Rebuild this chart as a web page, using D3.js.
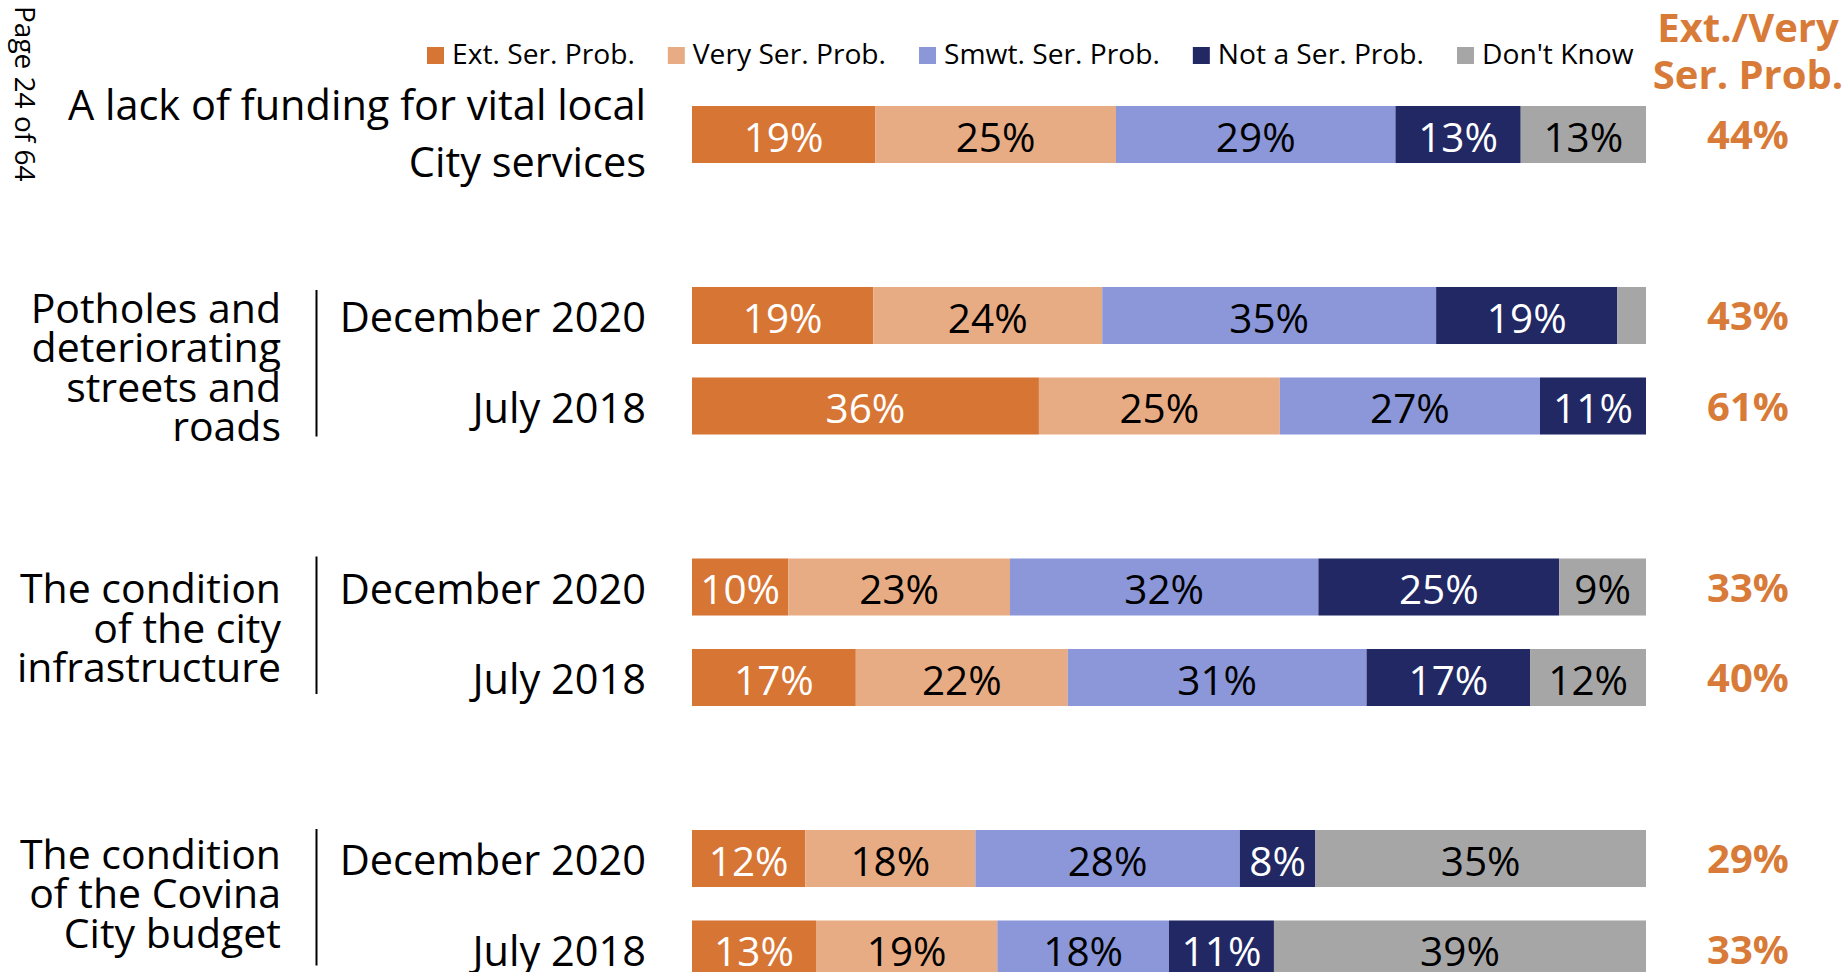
<!DOCTYPE html>
<html>
<head>
<meta charset="utf-8">
<script src="https://cdn.jsdelivr.net/npm/d3@7"></script>
<style>
  html, body { margin: 0; padding: 0; background: #ffffff; }
  svg { display: block; }
  text { font-family: "Open Sans", "Noto Sans", sans-serif; }
</style>
</head>
<body>
<svg id="chart" width="1848" height="972"></svg>
<script>
// ---------------- DATA ----------------
const rowKeys = ["funding", "potholes2020", "potholes2018", "infra2020", "infra2018", "budget2020", "budget2018"];
const rowLabels = ["A lack of funding for vital local|City services", "December 2020", "July 2018", "December 2020", "July 2018", "December 2020", "July 2018"];
const seriesNames = ["Ext. Ser. Prob.", "Very Ser. Prob.", "Smwt. Ser. Prob.", "Not a Ser. Prob.", "Don't Know"];
const extSerProb  = [19, 19, 36, 10, 17, 12, 13];
const verySerProb = [25, 24, 25, 23, 22, 18, 19];
const smwtSerProb = [29, 35, 27, 32, 31, 28, 18];
const notSerProb  = [13, 19, 11, 25, 17,  8, 11];
const dontKnow    = [13,  3,  0,  9, 12, 35, 39];
const extVeryTotal = [44, 43, 61, 33, 40, 29, 33];
const groupNames = ["Potholes and|deteriorating|streets and|roads", "The condition|of the city|infrastructure", "The condition|of the Covina|City budget"];
const groupRows = [["potholes2020", "potholes2018"], ["infra2020", "infra2018"], ["budget2020", "budget2018"]];
const slotOrder = ["funding", "gapA", "potholes2020", "potholes2018", "gapB", "infra2020", "infra2018", "gapC", "budget2020", "budget2018"];
const headerLines = ["Ext./Very", "Ser. Prob."];
const pageLabel = "Page 24 of 64";

// ---------------- STYLE ----------------
const colors = ["#D77534", "#E8AC85", "#8B97D9", "#212864", "#A6A6A6"];
const labelColors = ["#ffffff", "#000000", "#000000", "#ffffff", "#000000"];
const accent = "#D97B38";
const groupTextShift = [7, 16, 10];      // first-line baseline offset from first bar centre
const groupLineTop = [3, -2, -1];        // separator start relative to first bar top
const groupLineBottom = [2, -12, -12];   // separator end relative to second bar bottom

const svg = d3.select("#chart");

const seriesKeys = ["s0", "s1", "s2", "s3", "s4"];
const seriesArrays = [extSerProb, verySerProb, smwtSerProb, notSerProb, dontKnow];
const table = rowKeys.map((k, i) => {
  const o = { key: k, label: rowLabels[i], total: extVeryTotal[i] };
  seriesKeys.forEach((s, j) => o[s] = seriesArrays[j][i]);
  return o;
});

const x = d3.scaleLinear().domain([0, 1]).range([692, 1646]);
const y = d3.scaleBand().domain(slotOrder).range([89.25, 994.25]).paddingInner(0.37).paddingOuter(0.185);
const bw = y.bandwidth();
const cy = k => y(k) + bw / 2;

const stacked = d3.stack().keys(seriesKeys).offset(d3.stackOffsetExpand)(table);

// bars
const layers = svg.append("g").selectAll("g").data(stacked).join("g")
  .attr("fill", (d, i) => colors[i]);
layers.selectAll("rect").data(d => d.map(p => ({ p, key: d.key, idx: d.index }))).join("rect")
  .attr("x", d => x(d.p[0]))
  .attr("width", d => Math.max(0, x(d.p[1]) - x(d.p[0])))
  .attr("y", d => y(d.p.data.key))
  .attr("height", bw);

// value labels
layers.selectAll("text").data(d => d.map(p => ({ p, key: d.key, idx: d.index })).filter(d => d.p.data[d.key] >= 5))
  .join("text")
  .attr("x", d => (x(d.p[0]) + x(d.p[1])) / 2)
  .attr("y", d => cy(d.p.data.key) + 17)
  .attr("text-anchor", "middle")
  .attr("font-size", 40.5)
  .attr("fill", d => labelColors[d.idx])
  .text(d => d.p.data[d.key] + "%");

// totals
svg.append("g").selectAll("text").data(table).join("text")
  .attr("x", 1748)
  .attr("y", d => cy(d.key) + 14.5)
  .attr("text-anchor", "middle")
  .attr("font-size", 40)
  .attr("font-weight", 700)
  .attr("fill", accent)
  .text(d => d.total + "%");

// header
svg.append("g").selectAll("text").data(headerLines).join("text")
  .attr("x", 1748)
  .attr("y", (d, i) => 42 + i * 47)
  .attr("text-anchor", "middle")
  .attr("font-size", 40)
  .attr("font-weight", 700)
  .attr("fill", accent)
  .text(d => d);

// row labels
const rowLabelG = svg.append("g");
table.forEach(d => {
  const lines = d.label.split("|");
  const t = rowLabelG.append("text")
    .attr("text-anchor", "end")
    .attr("font-size", 41.5)
    .attr("fill", "#000");
  if (lines.length === 1) {
    t.attr("x", 646).attr("y", cy(d.key) + 16.5).text(lines[0]);
  } else {
    lines.forEach((ln, i) => {
      t.append("tspan").attr("x", 646).attr("y", cy(d.key) - 14.5 + i * 57).text(ln);
    });
  }
});

// group labels and separators
const groupG = svg.append("g");
groupNames.forEach((g, gi) => {
  const [a, b] = groupRows[gi];
  const t = groupG.append("text").attr("text-anchor", "end").attr("font-size", 41).attr("fill", "#000");
  g.split("|").forEach((ln, i) => {
    t.append("tspan").attr("x", 281).attr("y", cy(a) + groupTextShift[gi] + i * 39.5).text(ln);
  });
  groupG.append("line")
    .attr("x1", 316.5).attr("x2", 316.5)
    .attr("y1", y(a) + groupLineTop[gi]).attr("y2", y(b) + bw + groupLineBottom[gi])
    .attr("stroke", "#000").attr("stroke-width", 2);
});

// legend
const legend = svg.append("g");
let lx = 427;
seriesNames.forEach((name, i) => {
  legend.append("rect").attr("x", lx).attr("y", 47).attr("width", 17).attr("height", 17).attr("fill", colors[i]);
  const t = legend.append("text").attr("x", lx + 25).attr("y", 64).attr("font-size", 28.2).attr("fill", "#000").text(name);
  lx = lx + 25 + t.node().getComputedTextLength() + 33;
});

// page label
svg.append("text")
  .attr("transform", "translate(15,6) rotate(90)")
  .attr("font-family", "'Liberation Sans', Arial, sans-serif")
  .attr("font-size", 28)
  .attr("fill", "#000")
  .text(pageLabel);
</script>
</body>
</html>
